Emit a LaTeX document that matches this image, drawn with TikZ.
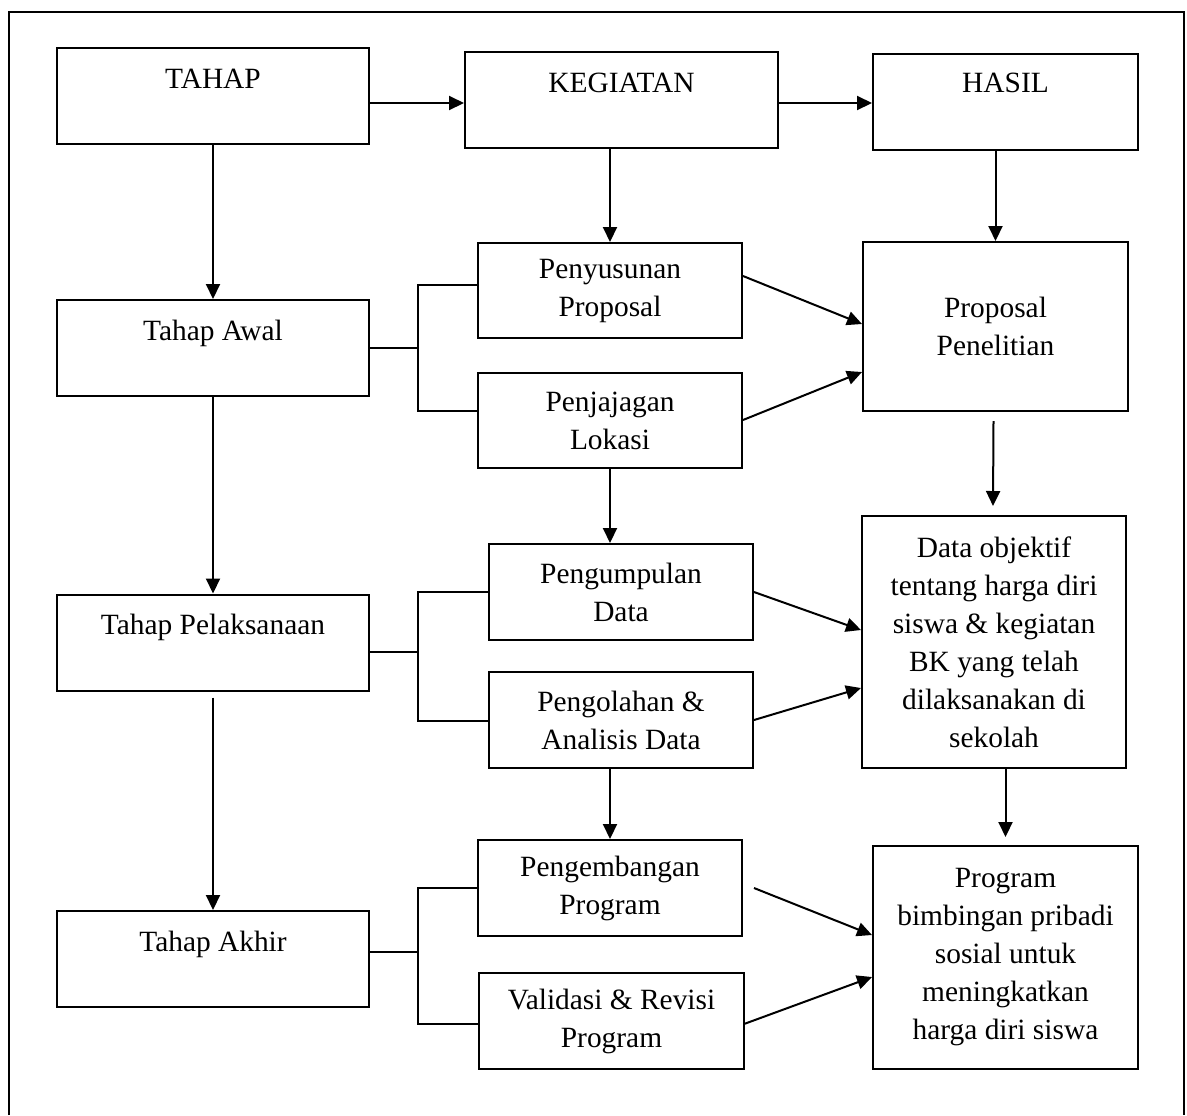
\documentclass[tikz,border=0pt]{standalone}
\usepackage{fontspec}
\setmainfont{Liberation Serif}
\usetikzlibrary{arrows.meta,calc}
\begin{document}
\begin{tikzpicture}[x=0.5pt,y=-0.5pt,
  box/.style={draw, line width=1pt, inner sep=0pt, align=center, font=\fontsize{14.7}{19}\selectfont},
  stagebox/.style={box, minimum width=156pt, text height=20pt, text depth=28pt},
  arr/.style={line width=1pt, -{Triangle[length=7.5pt,width=7pt]}},
  ln/.style={line width=1pt}]
\useasboundingbox (0,0) rectangle (1187,1115);
% outer frame
\draw[ln] (9,1115) -- (9,12) -- (1184,12) -- (1184,1115);
% header boxes
\node[stagebox] (tahap) at (213,96) {TAHAP};
\node[stagebox, minimum width=156.5pt] (keg) at (621.5,100) {KEGIATAN};
\node[stagebox, minimum width=132.5pt, text height=19pt, text depth=29pt] (hasil) at (1005.5,102) {HASIL};
% stage boxes
\node[stagebox] (awal) at (213,348) {Tahap Awal};
\node[stagebox] (pel) at (213,642.5) {Tahap Pelaksanaan};
\node[stagebox] (akhir) at (213,959) {Tahap Akhir};
% activity boxes
\node[box, minimum width=132pt, minimum height=47.5pt] (pen) at (610,290.5) {Penyusunan\\Proposal};
\node[box, minimum width=132pt, minimum height=47.5pt] (jaj) at (610,420.5) {Penjajagan\\Lokasi};
\node[box, minimum width=132pt, minimum height=48pt] (kum) at (621,592) {Pengumpulan\\Data};
\node[box, minimum width=132pt, minimum height=48pt] (olah) at (621,720) {Pengolahan \&\\Analisis Data};
\node[box, minimum width=132pt, minimum height=48pt] (kemb) at (610,888) {Pengembangan\\Program};
\node[box, minimum width=132.5pt, minimum height=48pt] (val) at (611.5,1021) {Validasi \& Revisi\\Program};
% result boxes
\node[box, minimum width=132.5pt, minimum height=84.5pt] (prop) at (995.5,326.5) {Proposal\\Penelitian};
\node[box, minimum width=132pt, minimum height=126pt] (data) at (994,642) {Data objektif\\tentang harga diri\\siswa \& kegiatan\\BK yang telah\\dilaksanakan di\\sekolah};
\node[box, minimum width=132.5pt, minimum height=111.5pt] (prog) at (1005.5,957.5) {Program\\bimbingan pribadi\\sosial untuk\\meningkatkan\\harga diri siswa};
% header arrows
\draw[arr] ($(tahap.east)+(0,7)$) -- ($(keg.west)+(0,3)$);
\draw[arr] ($(keg.east)+(0,3)$) -- ($(hasil.west)+(0,1)$);
\draw[arr] (keg.south -| pen.north) -- (pen.north);
\draw[arr] (hasil.south -| prop.north) -- (prop.north);
% stage column
\draw[arr] (tahap.south) -- (awal.north);
\draw[arr] (awal.south) -- (pel.north);
\draw[arr] ($(pel.south)+(0,6)$) -- (akhir.north);
% activity column
\draw[arr] (jaj.south) -- (jaj.south |- kum.north);
\draw[arr] (olah.south -| kemb.north) -- (kemb.north);
% result column
\draw[arr] ($(prop.south)+(-2,9)$) -- ($(data.north)+(-1,-9)$);
\draw[arr] (prog.north |- data.south) -- ($(prog.north)+(0,-8)$);
% brackets
\draw[ln] ($(pen.west)+(0,-5.5)$) -| ($(awal.east)+(48,0)$) |- ($(jaj.west)+(0,-9.5)$);
\draw[ln] (awal.east) -- ++(48,0);
\draw[ln] (kum.west) -| ($(pel.east)+(48,9.5)$) |- ($(olah.west)+(0,1)$);
\draw[ln] ($(pel.east)+(0,9.5)$) -- ++(48,0);
\draw[ln] ($(kemb.west)+(2,0)$) -| ($(akhir.east)+(48,-7)$) |- ($(val.west)+(0,3)$);
\draw[ln] ($(akhir.east)+(0,-7)$) -- ++(48,0);
% diagonal arrows
\draw[arr] ($(pen.east)+(0,-14.5)$) -- ($(prop.west)+(0,-2.5)$);
\draw[arr] ($(jaj.east)+(0,-0.5)$) -- ($(prop.west)+(0,45.5)$);
\draw[arr] (kum.east) -- ($(data.west)+(0,-12)$);
\draw[arr] (olah.east) -- ($(data.west)+(0,46)$);
\draw[arr] ($(kemb.east)+(11,0)$) -- ($(prog.west)+(0,-22.5)$);
\draw[arr] ($(val.east)+(-1,3)$) -- ($(prog.west)+(0,19.5)$);
\end{tikzpicture}
\end{document}
